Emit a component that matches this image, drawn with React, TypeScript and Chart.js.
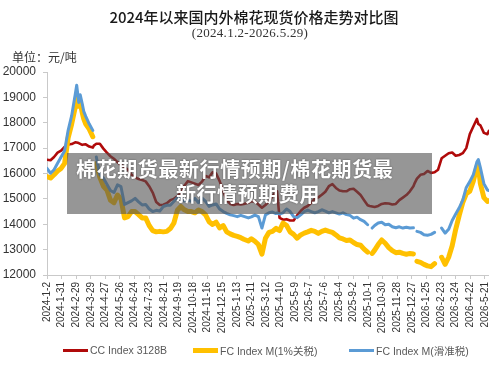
import { useEffect, useRef } from "react";
import { Chart, registerables } from "chart.js";

Chart.register(...registerables);

// Trading dates (null values mark market holidays where the FC series break)
const dates = [
  "2024-01-02", "2024-01-09", "2024-01-16", "2024-01-23", "2024-01-30", "2024-02-06", "2024-02-13",
  "2024-02-20", "2024-02-27", "2024-03-01", "2024-03-05", "2024-03-08", "2024-03-12", "2024-03-15",
  "2024-03-19", "2024-03-26", "2024-04-02", "2024-04-04", "2024-04-09", "2024-04-16", "2024-04-23",
  "2024-04-30", "2024-05-07", "2024-05-14", "2024-05-21", "2024-05-28", "2024-06-04", "2024-06-11",
  "2024-06-18", "2024-06-25", "2024-07-02", "2024-07-09", "2024-07-16", "2024-07-23", "2024-07-30",
  "2024-08-06", "2024-08-13", "2024-08-20", "2024-08-27", "2024-09-03", "2024-09-10", "2024-09-17",
  "2024-09-24", "2024-09-30", "2024-10-08", "2024-10-15", "2024-10-22", "2024-10-29", "2024-11-05",
  "2024-11-12", "2024-11-19", "2024-11-26", "2024-12-03", "2024-12-10", "2024-12-17", "2024-12-24",
  "2024-12-31", "2025-01-07", "2025-01-14", "2025-01-21", "2025-01-27", "2025-02-05", "2025-02-11",
  "2025-02-18", "2025-02-25", "2025-03-04", "2025-03-11", "2025-03-18", "2025-03-25", "2025-04-01",
  "2025-04-03", "2025-04-08", "2025-04-15", "2025-04-22", "2025-04-29", "2025-05-06", "2025-05-13",
  "2025-05-20", "2025-05-27", "2025-06-03", "2025-06-10", "2025-06-17", "2025-06-24", "2025-07-01",
  "2025-07-08", "2025-07-15", "2025-07-22", "2025-07-29", "2025-08-05", "2025-08-12", "2025-08-19",
  "2025-08-26", "2025-09-02", "2025-09-09", "2025-09-16", "2025-09-23", "2025-09-30", "2025-10-04",
  "2025-10-09", "2025-10-14", "2025-10-21", "2025-10-28", "2025-11-04", "2025-11-11", "2025-11-18",
  "2025-11-25", "2025-12-02", "2025-12-09", "2025-12-16", "2025-12-23", "2025-12-30", "2026-01-01",
  "2026-01-06", "2026-01-13", "2026-01-20", "2026-01-27", "2026-02-03", "2026-02-10", "2026-02-17",
  "2026-02-24", "2026-03-03", "2026-03-10", "2026-03-17", "2026-03-24", "2026-03-31", "2026-04-07",
  "2026-04-14", "2026-04-21", "2026-04-28", "2026-05-05", "2026-05-08", "2026-05-12", "2026-05-19",
  "2026-05-26", "2026-05-29",
];

// CC Index 3128B (元/吨)
const ccIndex = [
  16540, 16520, 16650, 16820, 16900, 17050, 17140,
  17160, 17230, 17220, 17200, 17170, 17130, 17140,
  17150, 17060, 17020, 17100, 17170, 17170, 16980,
  16820, 16680, 16580, 16450, 16340, 16250, 16150,
  15950, 15850, 15780, 15740, 15690, 15500, 15250,
  14880, 14760, 14770, 14830, 14950, 15000, 15100,
  15250, 15500, 15700, 15650, 15600, 15550, 15680,
  15900, 15850, 16050, 16000, 15700, 15300, 14950,
  14800, 14760, 14800, 14780, 14800, 14850, 14900,
  14900, 14780, 14650, 14760, 14900, 15100, 15300,
  15300, 14250, 14180, 14200, 14150, 14150, 14350,
  14520, 14650, 14720, 14850, 15000, 15060, 15160,
  15280, 15500, 15580, 15430, 15330, 15300, 15300,
  15380, 15400, 15280, 15150, 14950, 14750, 14720,
  14700, 14680, 14720, 14800, 14830, 14820, 14780,
  14800, 14950, 15050, 15150, 15300, 15500, 15600,
  15800, 15950, 15980, 16100, 16020, 16050, 16150,
  16600, 16700, 16800, 16830, 16700, 16730, 16800,
  17000, 17550, 17850, 18150, 17950, 17900, 17600,
  17550, 17680,
];

// FC Index M, 1% tariff (元/吨)
const fcIndex1pct = [
  15880, 15820, 15950, 16100, 16200, 16400, 17400,
  17950, 18600, 19100, 18650, 18800, 18400, 18150,
  17950, 17750, 17450, null, 16400, 15850, 15500,
  15350, 14950, 14850, 15150, 15000, 14250, 14300,
  14500, 14500, 14380, 14250, 14250, 13950, 13750,
  13700, 13720, 13700, 13720, 13830, 14040, 14550,
  14700, 14580, 14500, 14500, 14450, 14560, 14500,
  14370, 14100, 13990, 14080, 13860, 13950, 13700,
  13620, 13560, 13520, 13470, 13410, 13340, 13430,
  13330, 13200, 12820, 13450, 13680, 13720, 13840,
  13800, 13750, 14050, 13950, 13700, 13600, 13450,
  13580, 13650, 13700, 13760, 13720, 13640, 13720,
  13770, 13720, 13680, 13580, 13460, 13420, 13360,
  13380, 13280, 13200, 13170, 13020, 12900, null,
  12850, 12980, 13200, 13380, 13250, 13080, 12960,
  12880, 12900, 12850, 12820, 12850, 12830, null,
  12540, 12500, 12420, 12360, 12330, 12450, null,
  12700, 12420, 12700, 13150, 13800, 14350, 14850,
  15200, 15300, 15700, 16250, 16300, 15600, 15050,
  14900, 14930,
];

// FC Index M, sliding-scale tariff (元/吨)
const fcIndexSliding = [
  16200, 16010, 16150, 16400, 16650, 16900, 17700,
  18280, 19100, 19480, 18800, 19100, 18750, 18450,
  18250, 17950, 17700, null, 16650, 15950, 15820,
  15580, 15330, 15250, 15550, 15480, 14780, 14850,
  14920, 15020, 14880, 14760, 14780, 14600, 14500,
  14550, 14520, 14700, 14750, 14750, 14900, 15050,
  15080, 14920, 14950, 14900, 15020, 14850, 15030,
  14900, 14700, 14760, 14800, 14600, 14500, 14430,
  14370, 14340, 14300, 14350, 14310, 14250, 14290,
  14360, 14300, 13850, 14370, 14450, 14480, 14420,
  14450, 14400, 14450, 14600, 14500, 14300, 14260,
  14370, 14500, 14560, 14500, 14450, 14500, 14570,
  14520, 14450, 14500, 14450, 14400, 14450, 14380,
  14350, 14240, 14280, 14180, 14110, 13980, null,
  13850, 13950, 14050, 14080, 13980, 14000, 13900,
  13860, 13900, 13850, 13880, 13850, 13860, null,
  13720, 13680, 13590, 13570, 13600, 13680, null,
  13850, 13650, 13800, 14150, 14400, 14650, 14950,
  15450, 15680, 15950, 16450, 16550, 16230, 15600,
  15350, 15330,
];

// Date-axis labels, one every 29 days
const tickLabels = [
  "2024-1-2", "2024-1-31", "2024-2-29", "2024-3-29", "2024-4-27", "2024-5-26", "2024-6-24",
  "2024-7-23", "2024-8-21", "2024-9-19", "2024-10-18", "2024-11-16", "2024-12-15", "2025-1-13",
  "2025-2-11", "2025-3-12", "2025-4-10", "2025-5-9", "2025-6-7", "2025-7-6", "2025-8-4",
  "2025-9-2", "2025-10-1", "2025-10-30", "2025-11-28", "2025-12-27", "2026-1-25", "2026-2-23",
  "2026-3-24", "2026-4-22", "2026-5-21",
];

const seriesNames = ["CC Index 3128B", "FC Index M(1%关税)", "FC Index M(滑准税)"];

const RED = "#B00A0A";
const GOLD = "#FFC000";
const BLUE = "#5B9BD5";
const AXIS = "#c9c9c9";
const SANS = "'Liberation Sans', 'Noto Sans CJK SC', sans-serif";
const CJK = "'Noto Sans CJK SC', sans-serif";

const START = Date.UTC(2024, 0, 2);
function dayOf(s: string): number {
  const [y, m, d] = s.split("-").map(Number);
  return Math.round((Date.UTC(y, m - 1, d) - START) / 86400000);
}

const dayValues = dates.map(dayOf);
const lastDay = dayValues[dayValues.length - 1];
const tickDays = tickLabels.map(dayOf);
const labelByDay = new Map<number, string>(tickDays.map((d, i) => [d, tickLabels[i]]));

function points(values: (number | null)[]) {
  return values.map((v, i) => ({ x: dayValues[i], y: v }));
}

export default function App() {
  const canvasRef = useRef<HTMLCanvasElement | null>(null);

  useEffect(() => {
    const canvas = canvasRef.current;
    if (!canvas) return;
    const chart = new Chart(canvas, {
      type: "line",
      data: {
        datasets: [
          {
            label: seriesNames[2],
            data: points(fcIndexSliding),
            borderColor: BLUE,
            borderWidth: 3,
            pointRadius: 0,
            spanGaps: false,
            order: 0,
            tension: 0,
          },
          {
            label: seriesNames[1],
            data: points(fcIndex1pct),
            borderColor: GOLD,
            borderWidth: 5,
            pointRadius: 0,
            spanGaps: false,
            order: 1,
            tension: 0,
          },
          {
            label: seriesNames[0],
            data: points(ccIndex),
            borderColor: RED,
            borderWidth: 2.6,
            pointRadius: 0,
            spanGaps: true,
            order: 2,
            tension: 0,
          },
        ],
      },
      options: {
        animation: false,
        responsive: false,
        devicePixelRatio: 1,
        parsing: false,
        normalized: true,
        layout: { padding: { left: 0, top: 72, right: 11, bottom: 27 } },
        plugins: { legend: { display: false }, tooltip: { enabled: false }, title: { display: false } },
        elements: { line: { borderJoinStyle: "round", borderCapStyle: "round" } },
        scales: {
          x: {
            type: "linear",
            min: 0,
            max: lastDay,
            grid: { drawOnChartArea: false, drawTicks: true, tickLength: 4, color: AXIS },
            border: { display: true, color: AXIS },
            ticks: {
              autoSkip: false,
              minRotation: 90,
              maxRotation: 90,
              padding: 3,
              color: "#333",
              font: { family: SANS, size: 10 },
              callback: (v: any) => labelByDay.get(Number(v)) ?? "",
            },
            afterBuildTicks: (scale: any) => {
              scale.ticks = tickDays.map((d) => ({ value: d }));
            },
            afterFit: (scale: any) => {
              scale.height = 65;
            },
          },
          y: {
            min: 12000,
            max: 20000,
            grid: { drawOnChartArea: false, drawTicks: true, tickLength: 4, color: AXIS },
            border: { display: true, color: AXIS },
            ticks: {
              stepSize: 1000,
              padding: 7,
              color: "#333",
              font: { family: SANS, size: 12 },
              callback: (v: any) => String(v),
            },
            afterFit: (scale: any) => {
              scale.width = 47;
            },
          },
        },
      },
    });
    return () => chart.destroy();
  }, []);

  const legendItems = [
    { name: seriesNames[0], color: RED, thick: 3, left: 63 },
    { name: seriesNames[1], color: GOLD, thick: 5, left: 193 },
    { name: seriesNames[2], color: BLUE, thick: 3, left: 349 },
  ];

  return (
    <div
      style={{
        position: "absolute",
        left: 0,
        top: 0,
        width: 500,
        height: 367,
        background: "#fff",
        overflow: "hidden",
      }}
    >
      <canvas
        ref={canvasRef}
        width={500}
        height={367}
        style={{ position: "absolute", left: 0, top: 0, width: 500, height: 367 }}
      />
      <div
        style={{
          position: "absolute",
          left: 254,
          top: 7,
          transform: "translateX(-50%)",
          whiteSpace: "nowrap",
          fontFamily: CJK,
          fontSize: 15,
          fontWeight: 500,
          color: "#1a1a1a",
          lineHeight: "20px",
        }}
      >
        2024年以来国内外棉花现货价格走势对比图
      </div>
      <div
        style={{
          position: "absolute",
          left: 250,
          top: 25,
          transform: "translateX(-50%)",
          whiteSpace: "nowrap",
          fontFamily: "'Liberation Serif', serif",
          fontSize: 13,
          color: "#333",
          lineHeight: "16px",
          letterSpacing: 0.3,
        }}
      >
        (2024.1.2-2026.5.29)
      </div>
      <div
        style={{
          position: "absolute",
          left: 12,
          top: 49,
          whiteSpace: "nowrap",
          fontFamily: CJK,
          fontSize: 12,
          color: "#333",
          lineHeight: "16px",
        }}
      >
        单位：元/吨
      </div>
      {legendItems.map((it) => (
        <div
          key={it.name}
          style={{
            position: "absolute",
            left: it.left,
            top: 342,
            height: 16,
            display: "flex",
            alignItems: "center",
            whiteSpace: "nowrap",
            fontFamily: SANS,
            fontSize: 10.5,
            color: "#595959",
          }}
        >
          <span style={{ display: "inline-block", width: 25, height: it.thick, background: it.color, marginRight: 2 }} />
          <span>{it.name}</span>
        </div>
      ))}
      <div
        style={{
          position: "absolute",
          left: 67,
          top: 153,
          width: 365,
          height: 61,
          background: "rgba(80, 80, 80, 0.6)",
        }}
      />
      <div
        style={{
          position: "absolute",
          left: 76,
          top: 156,
          whiteSpace: "nowrap",
          fontFamily: CJK,
          fontSize: 20,
          fontWeight: 700,
          color: "#fff",
          lineHeight: "25px",
          letterSpacing: 0.6,
          textShadow: "0 0 2px rgba(0,0,0,0.45)",
        }}
      >
        棉花期货最新行情预期/棉花期货最
      </div>
      <div
        style={{
          position: "absolute",
          left: 248,
          top: 181,
          transform: "translateX(-50%)",
          whiteSpace: "nowrap",
          fontFamily: CJK,
          fontSize: 20,
          fontWeight: 700,
          color: "#fff",
          lineHeight: "25px",
          letterSpacing: 0.6,
          textShadow: "0 0 2px rgba(0,0,0,0.45)",
        }}
      >
        新行情预期费用
      </div>
    </div>
  );
}
